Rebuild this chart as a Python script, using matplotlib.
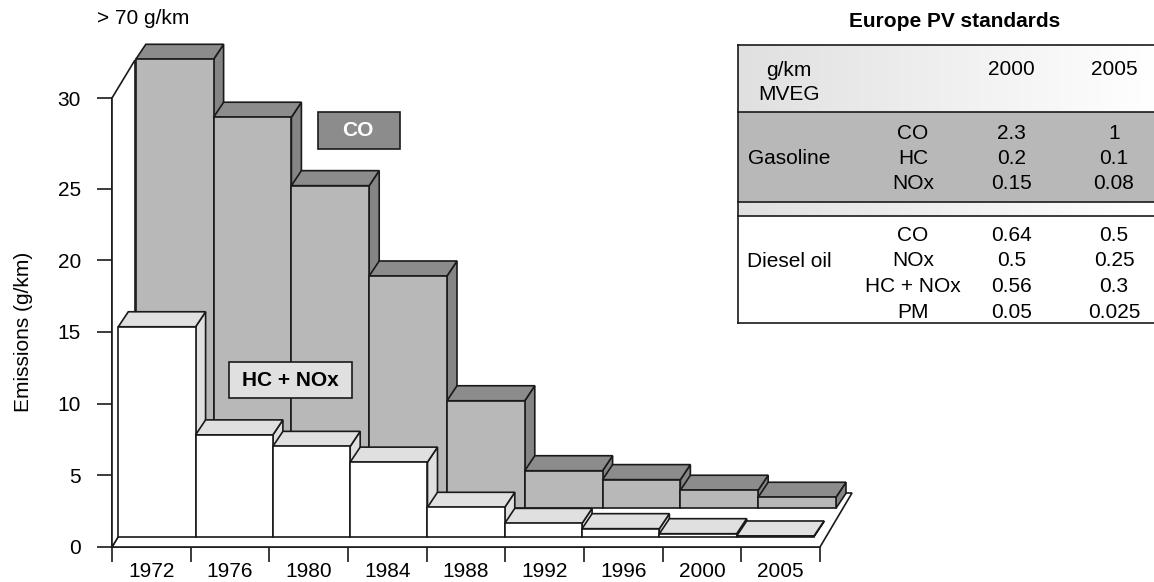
import numpy as np
import matplotlib
matplotlib.use('Agg')
import matplotlib.pyplot as plt
from matplotlib.patches import Polygon, Rectangle
from matplotlib.transforms import IdentityTransform

plt.rcParams['font.family'] = ['Liberation Sans', 'DejaVu Sans']

# --- DATA ---
years = ['1972', '1976', '1980', '1984', '1988', '1992', '1996', '2000', '2005']
co_values = [30.0, 26.8, 22.5, 16.2, 7.5, 2.62, 2.0, 1.26, 0.77]
hc_nox_values = [14.64, 7.1, 6.3, 5.2, 2.05, 0.93, 0.56, 0.21, 0.05]
y_ticks = [0, 5, 10, 15, 20, 25, 30]

table_years = ['2000', '2005']
gasoline_rows = ['CO', 'HC', 'NOx']
gasoline_2000 = ['2.3', '0.2', '0.15']
gasoline_2005 = ['1', '0.1', '0.08']
diesel_rows = ['CO', 'NOx', 'HC + NOx', 'PM']
diesel_2000 = ['0.64', '0.5', '0.56', '0.05']
diesel_2005 = ['0.5', '0.25', '0.3', '0.025']

# --- STYLE ---
W, H = 1154, 582
LINE = '#1a1a1a'
LW = 1.2
FS = 15
CO_FRONT, CO_TOP, CO_SIDE = '#b8b8b8', '#8c8c8c', '#858585'
HC_FRONT, HC_TOP, HC_SIDE = '#ffffff', '#e0e0e0', '#e0e0e0'


def y_forward(v):
    # upper part of the axis is stretched in the original
    return np.interp(v, [0, 25, 30], [0, 358.5, 449])


def y_inverse(p):
    return np.interp(p, [0, 358.5, 449], [0, 25, 30])


fig = plt.figure(figsize=(W / 100, H / 100), dpi=100)
ax = fig.add_axes([112 / W, (H - 547) / H, (820 - 112) / W, (547 - 98) / H])
ax.set_xlim(0, 9)
ax.set_yscale('function', functions=(y_forward, y_inverse))
ax.set_ylim(0, 30)
ax.patch.set_visible(False)
for s in ['top', 'right']:
    ax.spines[s].set_visible(False)
for s in ['left', 'bottom']:
    ax.spines[s].set_color(LINE)
    ax.spines[s].set_linewidth(LW)
    ax.spines[s].set_zorder(1)

ax.set_yticks(y_ticks)
ax.set_yticklabels([str(t) for t in y_ticks], fontsize=FS)
ax.yaxis.set_minor_locator(plt.NullLocator())
ax.set_xticks(np.arange(len(years) + 1))
ax.set_xticklabels([])
ax.set_xticks(np.arange(len(years)) + 0.5, years, minor=True, fontsize=FS)
ax.tick_params(axis='both', which='major', length=10.8, width=LW, color=LINE)
ax.tick_params(axis='y', pad=11.5)
ax.tick_params(axis='x', which='minor', length=0, pad=10.5)
ax.set_ylabel('Emissions (g/km)', fontsize=FS)
ax.yaxis.set_label_coords((33 - 112) / (820 - 112), (547 - 331.5) / 449)


# --- OBLIQUE PROJECTION ---
def project(x, v, dx=0.0, dy=0.0):
    p = ax.transData.transform((x, v))
    return (p[0] + dx, p[1] + dy)


def face(pts, color, z):
    ax.add_patch(Polygon(pts, closed=True, facecolor=color, edgecolor=LINE, lw=LW,
                         transform=IdentityTransform(), clip_on=False, zorder=z,
                         joinstyle='miter'))


# wall and floor
face([project(0, 0), project(9, 0), project(9, 0, 32, 54), project(0, 0, 32, 54)], 'white', 1.5)
face([project(0, 0), project(0, 30), project(0, 30, 23, 38), project(0, 0, 23, 38)], 'white', 1.6)


def bars(values, off_x, off_y, scale, front, top, side, z):
    depth_x, depth_y = 10, 15
    for i, v in enumerate(values):
        x0, x1 = i * scale, (i + 1) * scale
        a = project(x0, 0, off_x, off_y)
        b = project(x1, 0, off_x, off_y)
        c = project(x1, v, off_x, off_y)
        d = project(x0, v, off_x, off_y)
        zi = z + i * 0.01
        face([b, c, (c[0] + depth_x, c[1] + depth_y), (b[0] + depth_x, b[1] + depth_y)], side, zi)
        face([d, c, (c[0] + depth_x, c[1] + depth_y), (d[0] + depth_x, d[1] + depth_y)], top, zi)
        face([a, b, c, d], front, zi + 0.001)


bars(co_values, 23.8, 38.7, 77.8 / 78.67, CO_FRONT, CO_TOP, CO_SIDE, 3)
bars(hc_nox_values, 6.3, 10.3, 77.3 / 78.67, HC_FRONT, HC_TOP, HC_SIDE, 4)

# series labels
ov = fig.add_axes([0, 0, 1, 1])
ov.set_xlim(0, W)
ov.set_ylim(H, 0)
ov.axis('off')
ov.patch.set_visible(False)
ov.add_patch(Rectangle((318.3, 112.3), 81.7, 37, facecolor=CO_TOP, edgecolor=LINE, lw=LW, zorder=5))
ov.text(358, 131, 'CO', color='white', fontsize=FS, fontweight='bold', ha='center', va='center', zorder=6)
ov.add_patch(Rectangle((229.3, 361.7), 123, 36.6, facecolor=HC_TOP, edgecolor=LINE, lw=LW, zorder=5))
ov.text(290.5, 380.5, 'HC + NOx', color='black', fontsize=FS, fontweight='bold', ha='center', va='center', zorder=6)
ov.text(97, 19, '> 70 g/km', fontsize=FS, ha='left', va='center')

# --- TABLE ---
TL, TR = 737.5, 1154
ov.text(955, 21.5, 'Europe PV standards', fontsize=FS, fontweight='bold', ha='center', va='center')
grad = np.linspace(0, 1, 256).reshape(1, -1)
fade = matplotlib.colors.LinearSegmentedColormap.from_list('g', ['#e0e0e0', '#ffffff'])
for y0, y1 in [(45.3, 111.7), (202.3, 216)]:
    ov.imshow(grad, extent=(TL, TR, y1, y0), cmap=fade, aspect='auto', zorder=1)
ov.set_xlim(0, W)
ov.set_ylim(H, 0)
ov.add_patch(Rectangle((TL, 111.7), TR - TL, 90.6, facecolor=CO_FRONT, edgecolor='none', zorder=1))
for y in [45.3, 111.7, 202.3, 216, 323]:
    ov.plot([TL, TR], [y, y], color=LINE, lw=LW, zorder=2)
ov.plot([TL, TL], [45.3, 323], color=LINE, lw=LW, zorder=2)

col_row, col_a, col_b, col_name = 913, 1011.7, 1114, 789
ov.text(col_name, 70, 'g/km', fontsize=FS, ha='center', va='center', zorder=3)
ov.text(col_name, 94.5, 'MVEG', fontsize=FS, ha='center', va='center', zorder=3)
ov.text(col_a, 69.5, table_years[0], fontsize=FS, ha='center', va='center', zorder=3)
ov.text(col_b, 69.5, table_years[1], fontsize=FS, ha='center', va='center', zorder=3)
ov.text(col_name, 158.5, 'Gasoline', fontsize=FS, ha='center', va='center', zorder=3)
ov.text(col_name, 261.5, 'Diesel oil', fontsize=FS, ha='center', va='center', zorder=3)
for y, r, a, b in zip([133.2, 158.2, 183.5], gasoline_rows, gasoline_2000, gasoline_2005):
    ov.text(col_row, y, r, fontsize=FS, ha='center', va='center', zorder=3)
    ov.text(col_a, y, a, fontsize=FS, ha='center', va='center', zorder=3)
    ov.text(col_b, y, b, fontsize=FS, ha='center', va='center', zorder=3)
for y, r, a, b in zip([235.7, 260.7, 287, 312.2], diesel_rows, diesel_2000, diesel_2005):
    ov.text(col_row, y, r, fontsize=FS, ha='center', va='center', zorder=3)
    ov.text(col_a, y, a, fontsize=FS, ha='center', va='center', zorder=3)
    ov.text(col_b, y, b, fontsize=FS, ha='center', va='center', zorder=3)

fig.savefig('out.png', dpi=100)
